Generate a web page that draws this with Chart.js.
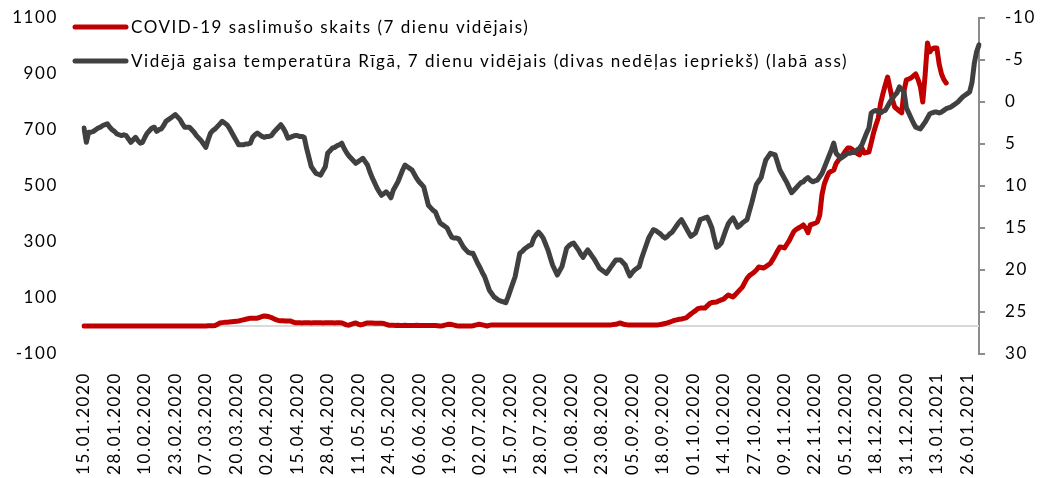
<!DOCTYPE html>
<html>
<head>
<meta charset="utf-8">
<script src="https://cdn.jsdelivr.net/npm/chart.js@4.4.1/dist/chart.umd.min.js"></script>
<style>
html,body{margin:0;padding:0;background:#fff;overflow:hidden;}
canvas{display:block;}
</style>
</head>
<body>
<canvas id="c" width="1043" height="478"></canvas>
<script>
// ---------- DATA ----------
const firstDay = '2020-01-15';   // first category (daily data)
const dayCount = 383;            // 15.01.2020 ... 31.01.2021

const tickLabels = ['15.01.2020','28.01.2020','10.02.2020','23.02.2020','07.03.2020','20.03.2020',
  '02.04.2020','15.04.2020','28.04.2020','11.05.2020','24.05.2020','06.06.2020','19.06.2020',
  '02.07.2020','15.07.2020','28.07.2020','10.08.2020','23.08.2020','05.09.2020','18.09.2020',
  '01.10.2020','14.10.2020','27.10.2020','09.11.2020','22.11.2020','05.12.2020','18.12.2020',
  '31.12.2020','13.01.2021','26.01.2021'];

const seriesNames = [
  'COVID-19 saslimušo skaits (7 dienu vidējais)',
  'Vidējā gaisa temperatūra Rīgā, 7 dienu vidējais (divas nedēļas iepriekš) (labā ass)'
];

// COVID-19 cases, 7-day average (left axis)
const covidCases = [
  0,0,0,0,0,0,0,0,0,0,
  0,0,0,0,0,0,0,0,0,0,
  0,0,0,0,0,0,0,0,0,0,
  0,0,0,0,0,0,0,0,0,0,
  0,0,0,0,0,0,0,0,0,0,
  0,0,0,1,1,1,2,6,11,12,
  13,13,14,15,16,17,18,20,22,24,
  26,28,28,28,28,31,34,36,35,33,
  30,26,22,20,19,19,18,18,18,15,
  12,12,12,11,12,12,12,11,12,12,
  12,12,11,12,12,12,12,11,12,12,
  11,8,4,3,6,9,11,7,4,6,
  9,11,11,11,10,10,10,10,9,6,
  3,3,3,2,3,2,2,3,2,2,
  2,2,3,2,2,2,2,2,2,2,
  2,1,0,1,3,5,6,5,3,1,
  0,0,0,0,0,0,1,3,5,6,
  4,2,0,2,4,4,4,4,4,4,
  4,4,4,4,4,4,4,4,4,4,
  4,4,4,4,4,4,4,4,4,4,
  4,4,4,4,4,4,4,4,4,4,
  4,4,4,4,4,4,4,4,4,4,
  4,4,4,4,4,4,5,6,9,11,
  7,5,4,4,4,4,4,4,4,4,
  4,4,4,4,4,4,5,7,9,11,
  14,17,20,22,24,25,27,29,36,43,
  49,55,62,64,64,64,72,80,84,85,
  86,90,93,96,104,111,107,104,112,121,
  130,139,155,170,180,186,192,200,211,209,
  207,212,218,224,238,252,268,282,281,279,
  292,305,322,338,345,350,355,361,350,333,
  361,364,367,372,395,470,508,530,548,553,
  557,580,592,603,612,625,636,636,630,622,
  616,611,636,618,620,621,655,690,718,743,
  795,830,861,889,850,810,782,775,768,761,
  840,879,882,886,893,900,880,854,800,896,
  1011,979,990,993,993,935,900,880,868
];

// Average air temperature in Riga, 7-day average, shifted two weeks (right axis, reversed)
const rigaTemp = [
  3.1,4.8,3.6,3.6,3.5,3.3,3.1,3.0,2.8,2.7,
  2.6,3.0,3.3,3.5,3.8,3.9,4.0,3.9,4.0,4.4,
  4.8,4.5,4.2,4.6,4.9,4.8,4.2,3.7,3.4,3.1,
  3.0,3.5,3.3,3.2,2.8,2.3,2.1,1.9,1.7,1.5,
  1.8,2.1,2.6,3.0,3.0,3.0,3.3,3.6,4.0,4.3,
  4.6,5.0,5.4,4.5,3.7,3.4,3.2,2.9,2.6,2.3,
  2.5,2.7,3.1,3.6,4.1,4.6,5.1,5.1,5.1,5.0,
  5.0,4.9,4.2,3.9,3.7,3.9,4.1,4.2,4.1,4.1,
  4.0,3.6,3.3,3.0,2.7,3.1,3.6,4.3,4.2,4.1,
  4.0,4.0,4.1,4.1,4.2,5.5,6.6,7.7,8.1,8.5,
  8.6,8.7,8.2,7.7,6.1,5.8,5.5,5.4,5.2,5.1,
  4.9,5.5,6.0,6.4,6.7,7.0,7.3,7.1,6.9,6.7,
  7.1,7.5,8.3,9.0,9.6,10.2,10.7,11.1,10.9,10.7,
  11.0,11.4,10.5,10.0,9.5,8.8,8.1,7.5,7.7,7.9,
  8.1,8.6,9.1,9.5,9.8,10.1,11.2,12.3,12.6,12.9,
  13.1,13.8,14.4,14.6,14.8,15.0,15.6,16.1,16.2,16.2,
  16.3,16.8,17.3,17.6,17.9,18.0,18.0,18.6,19.2,19.7,
  20.3,20.8,21.6,22.4,22.8,23.2,23.4,23.6,23.7,23.8,
  23.9,23.2,22.4,21.6,20.8,19.4,18.0,17.8,17.5,17.3,
  17.1,17.0,16.2,15.8,15.5,15.8,16.2,16.9,17.6,18.5,
  19.4,20.0,20.6,20.1,19.6,18.5,17.4,17.1,16.9,16.8,
  17.2,17.6,18.1,18.5,18.0,17.6,18.0,18.4,18.8,19.3,
  19.8,20.0,20.2,20.4,20.0,19.6,19.2,18.8,18.8,18.8,
  19.1,19.4,20.1,20.7,20.3,20.0,19.8,19.6,18.6,17.8,
  17.0,16.2,15.7,15.2,15.3,15.5,15.7,16.0,16.2,16.0,
  15.7,15.5,15.1,14.7,14.3,14.0,14.5,15.0,15.5,16.0,
  15.8,15.6,14.8,14.0,13.9,13.8,13.7,14.3,15.0,16.2,
  17.3,17.1,16.8,16.0,15.2,14.5,14.1,13.8,14.3,14.9,
  14.7,14.4,14.2,14.0,13.0,12.0,10.9,9.8,9.4,9.0,
  7.9,6.9,6.5,6.1,6.2,6.3,7.2,8.1,8.6,9.1,
  9.6,10.2,10.8,10.5,10.2,9.9,9.6,9.5,9.2,9.0,
  9.3,9.5,9.4,9.3,8.9,8.5,7.8,7.1,6.4,5.7,
  4.9,6.1,6.4,6.7,6.5,6.3,6.1,6.1,6.0,6.0,
  5.7,5.5,5.1,4.4,3.7,3.1,1.3,1.1,1.0,1.2,
  1.3,1.1,1.0,0.5,0.0,-0.4,-0.8,-1.1,-1.8,-1.5,
  -1.2,0.7,1.3,1.9,2.5,3.0,3.1,3.2,2.8,2.4,
  1.9,1.4,1.3,1.2,1.2,1.3,1.2,1.0,0.8,0.7,
  0.6,0.4,0.2,0.0,-0.3,-0.6,-0.8,-1.0,-1.2,-2.3,
  -4.6,-6.0,-6.8
];

// ---------- BUILD ----------
function buildDayLabels(start, n) {
  const out = [];
  const d0 = new Date(start + 'T12:00:00Z');
  for (let i = 0; i < n; i++) {
    const d = new Date(d0.getTime() + i * 86400000);
    const dd = String(d.getUTCDate()).padStart(2, '0');
    const mm = String(d.getUTCMonth() + 1).padStart(2, '0');
    out.push(dd + '.' + mm + '.' + d.getUTCFullYear());
  }
  return out;
}
const categories = buildDayLabels(firstDay, dayCount);
const shownTicks = new Set(tickLabels);

const FONT = 'Lato';
const RED = '#C00000';
const GREY = '#404040';
const TEXT_SPACING = '1.6px';

const spacingPlugin = {
  id: 'spacing',
  beforeLayout(chart) { chart.ctx.letterSpacing = TEXT_SPACING; },
  beforeDraw(chart) { chart.ctx.letterSpacing = TEXT_SPACING; }
};

const zeroLinePlugin = {
  id: 'zeroLine',
  beforeDatasetsDraw(chart) {
    const { ctx, chartArea, scales } = chart;
    const y = scales.y.getPixelForValue(0);
    ctx.save();
    ctx.strokeStyle = '#d9d9d9';
    ctx.lineWidth = 2;
    ctx.beginPath();
    ctx.moveTo(chartArea.left, y);
    ctx.lineTo(chartArea.right, y);
    ctx.stroke();
    ctx.restore();
  }
};

const insideLegendPlugin = {
  id: 'insideLegend',
  afterDraw(chart) {
    const ctx = chart.ctx;
    const rows = [27, 61];
    ctx.save();
    ctx.font = '17px ' + FONT;
    ctx.letterSpacing = '0px';
    const target = 717;
    const txt = chart.data.datasets[1].label;
    const w = ctx.measureText(txt).width;
    const ls = (target - w) / txt.length;
    chart.data.datasets.forEach((ds, i) => {
      const y = rows[i];
      ctx.strokeStyle = ds.borderColor;
      ctx.lineWidth = 5;
      ctx.lineCap = 'round';
      ctx.beginPath();
      ctx.moveTo(75, y);
      ctx.lineTo(126, y);
      ctx.stroke();
      ctx.fillStyle = '#000';
      ctx.textBaseline = 'middle';
      ctx.textAlign = 'left';
      ctx.letterSpacing = ls.toFixed(2) + 'px';
      ctx.fillText(ds.label, 131, y + 1);
    });
    ctx.restore();
  }
};

new Chart(document.getElementById('c'), {
  type: 'line',
  data: {
    labels: categories,
    datasets: [
      {
        label: seriesNames[0],
        data: covidCases,
        yAxisID: 'y',
        borderColor: RED,
        backgroundColor: RED,
        borderWidth: 5,
        pointRadius: 0,
        tension: 0,
        borderCapStyle: 'round',
        borderJoinStyle: 'round',
        order: 2
      },
      {
        label: seriesNames[1],
        data: rigaTemp,
        yAxisID: 'y2',
        borderColor: GREY,
        backgroundColor: GREY,
        borderWidth: 5,
        pointRadius: 0,
        tension: 0,
        borderCapStyle: 'round',
        borderJoinStyle: 'round',
        order: 1
      }
    ]
  },
  options: {
    responsive: false,
    animation: false,
    devicePixelRatio: 1,
    layout: { padding: { top: 18, left: 0, right: 0, bottom: 0 } },
    plugins: {
      legend: { display: false },
      tooltip: { enabled: false }
    },
    scales: {
      x: {
        type: 'category',
        offset: false,
        grid: { display: false, drawTicks: false },
        border: { display: false },
        ticks: {
          autoSkip: false,
          maxRotation: 90,
          minRotation: 90,
          padding: 18,
          color: '#000',
          font: { family: FONT, size: 17 },
          callback: function (v, i) {
            const l = this.getLabelForValue(v);
            return shownTicks.has(l) ? l : '';
          }
        },
        afterFit(scale) { scale.height = 124; scale.paddingLeft = 0; scale.paddingRight = 0; }
      },
      y: {
        position: 'left',
        min: -100,
        max: 1100,
        grid: { display: false, drawTicks: false },
        border: { display: false },
        ticks: {
          stepSize: 200,
          padding: 26,
          color: '#000',
          font: { family: FONT, size: 17 },
          callback: (v) => String(v)
        },
        afterFit(scale) { scale.width = 84; scale.paddingTop = 0; scale.paddingBottom = 0; }
      },
      y2: {
        position: 'right',
        reverse: true,
        min: -10,
        max: 30,
        grid: { drawOnChartArea: false, drawTicks: true, tickLength: 6, color: '#8c8c8c', lineWidth: 2 },
        border: { display: true, color: '#8c8c8c', width: 2 },
        ticks: {
          stepSize: 5,
          padding: 20,
          color: '#000',
          font: { family: FONT, size: 17 },
          callback: (v) => String(v)
        },
        afterFit(scale) { scale.width = 64; scale.paddingTop = 0; scale.paddingBottom = 0; }
      }
    }
  },
  plugins: [spacingPlugin, zeroLinePlugin, insideLegendPlugin]
});
</script>
</body>
</html>
